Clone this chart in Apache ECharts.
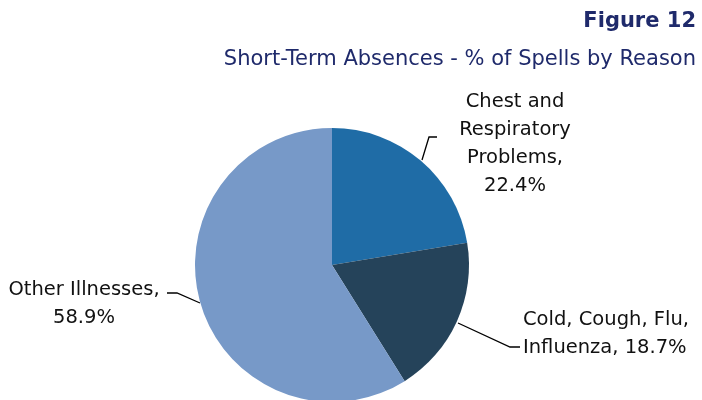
<!DOCTYPE html>
<html><head><meta charset="utf-8">
<script src="https://cdn.jsdelivr.net/npm/echarts@6/dist/echarts.min.js"></script>
<style>html,body{margin:0;padding:0;background:#fff}#c{width:702px;height:400px}</style>
</head><body><div id="c"></div>
<script>
const categories = ['Chest and\nRespiratory\nProblems,', 'Cold, Cough, Flu,\nInfluenza,', 'Other Illnesses,'];
const values = [22.4, 18.7, 58.9];
const colors = ['#1f6ca6', '#25435a', '#7799c8'];
const title = 'Figure 12';
const subtitle = 'Short-Term Absences - % of Spells by Reason';

const labelPos = [
  {x: 515, y: 144, align: 'center', line: [[422, 160], [429, 137], [437, 137]]},
  {x: 523, y: 334, align: 'left', line: [[458, 323], [510, 347], [520, 347]]},
  {x: 84, y: 304, align: 'center', line: [[200, 303], [177, 293], [167, 293]]}
];
const chart = echarts.init(document.getElementById('c'));
const font = '"DejaVu Sans", sans-serif';
chart.setOption({
  animation: false,
  title: [
    {text: title, right: 1, top: 6, textStyle: {fontFamily: font, fontSize: 21, fontWeight: 'bold', color: '#1f2a6b'}},
    {text: subtitle, right: 1, top: 44, textStyle: {fontFamily: font, fontSize: 21, fontWeight: 'normal', color: '#1f2a6b'}}
  ],
  series: [{
    type: 'pie',
    center: [332, 265],
    radius: [0, 137],
    startAngle: 90,
    clockwise: true,
    data: categories.map((c, i) => ({name: c, value: values[i], itemStyle: {color: colors[i]}})),
    label: {
      show: true,
      formatter: p => {
        if (p.dataIndex === 1) return p.name + ' ' + values[p.dataIndex].toFixed(1) + '%';
        return p.name + '\n' + values[p.dataIndex].toFixed(1) + '%';
      },
      fontFamily: font, fontSize: 19.5, color: '#111', lineHeight: 28,
      align: 'center'
    },
    labelLine: {show: true, lineStyle: {color: '#000', width: 1.3}, length: 10, length2: 10},
    labelLayout: p => {
      const l = labelPos[p.dataIndex];
      return {x: l.x, y: l.y, align: l.align, verticalAlign: 'middle', labelLinePoints: l.line};
    }
  }]
});
</script></body></html>
